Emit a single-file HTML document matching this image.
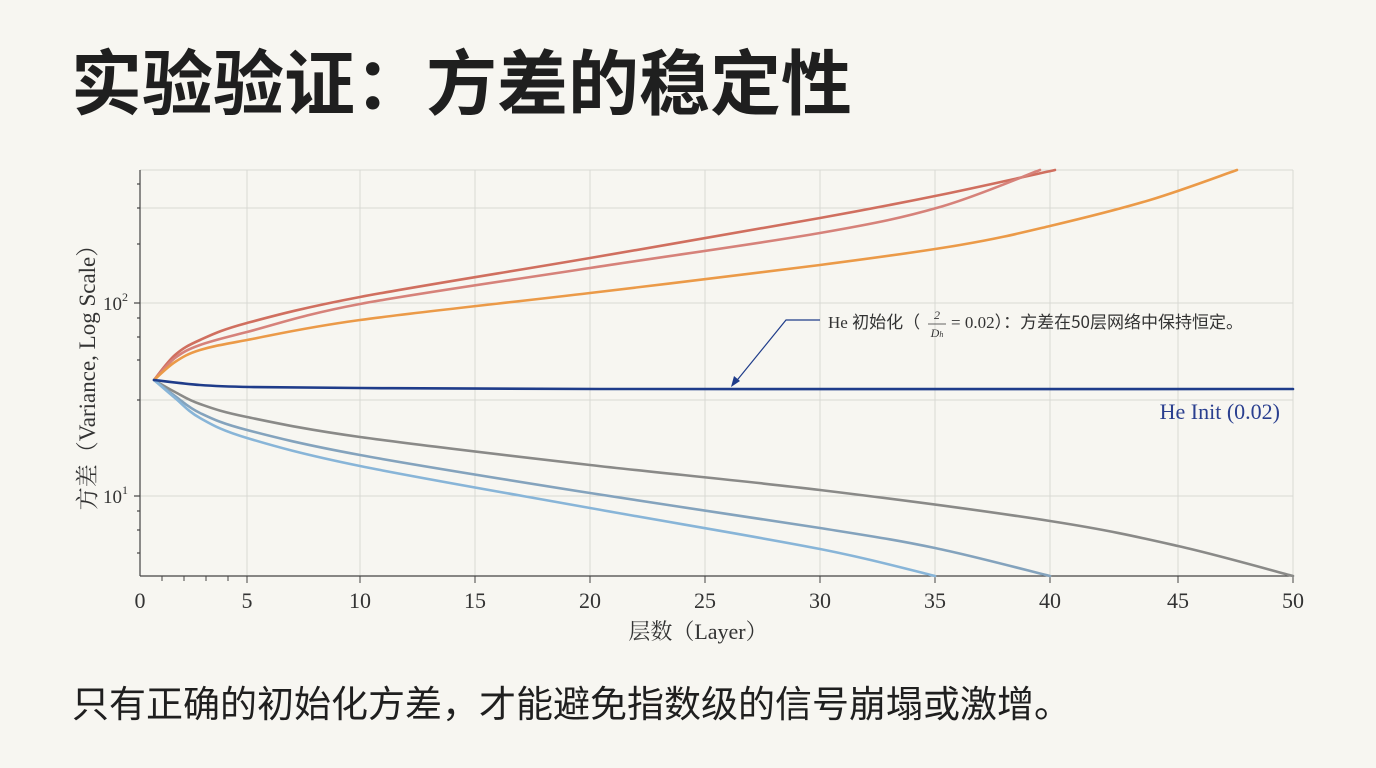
<!DOCTYPE html>
<html><head><meta charset="utf-8"><style>
html,body{margin:0;padding:0;background:#f7f6f1;}
body{width:1376px;height:768px;position:relative;overflow:hidden;}
.t{position:absolute;left:71px;top:50px;line-height:1;font-family:"Liberation Sans","Noto Sans CJK SC",sans-serif;font-weight:bold;font-size:71px;color:#1f1f1f;}
.b{position:absolute;left:72px;top:686px;line-height:1;font-family:"Liberation Sans","Noto Sans CJK SC",sans-serif;font-size:37px;color:#1f1f1f;}
</style></head><body>
<div class="t">实验验证：方差的稳定性</div>
<svg width="1376" height="768" style="position:absolute;left:0;top:0" font-family="Liberation Serif, Noto Serif CJK SC, serif">
<g stroke="#d9d9d4" stroke-width="1">
<line x1="247" y1="170" x2="247" y2="576"/><line x1="360" y1="170" x2="360" y2="576"/><line x1="475" y1="170" x2="475" y2="576"/>
<line x1="590" y1="170" x2="590" y2="576"/><line x1="705" y1="170" x2="705" y2="576"/><line x1="820" y1="170" x2="820" y2="576"/>
<line x1="935" y1="170" x2="935" y2="576"/><line x1="1050" y1="170" x2="1050" y2="576"/><line x1="1178" y1="170" x2="1178" y2="576"/>
<line x1="1293" y1="170" x2="1293" y2="576"/>
<line x1="140" y1="170" x2="1293" y2="170"/><line x1="140" y1="208" x2="1293" y2="208"/><line x1="140" y1="303" x2="1293" y2="303"/>
<line x1="140" y1="400" x2="1293" y2="400"/><line x1="140" y1="496" x2="1293" y2="496"/>
</g>
<g stroke="#444" stroke-width="1.2">
<line x1="140" y1="170" x2="140" y2="576"/><line x1="140" y1="576" x2="1293" y2="576"/>
<line x1="134" y1="303" x2="140" y2="303"/><line x1="134" y1="496" x2="140" y2="496"/>
<line x1="137" y1="184" x2="140" y2="184"/><line x1="137" y1="208" x2="140" y2="208"/><line x1="137" y1="244" x2="140" y2="244"/>
<line x1="137" y1="318" x2="140" y2="318"/><line x1="137" y1="337" x2="140" y2="337"/><line x1="137" y1="360" x2="140" y2="360"/><line x1="137" y1="400" x2="140" y2="400"/>
<line x1="137" y1="511" x2="140" y2="511"/><line x1="137" y1="530" x2="140" y2="530"/><line x1="137" y1="553" x2="140" y2="553"/>
</g>
<g stroke="#444" stroke-width="1">
<line x1="162" y1="576" x2="162" y2="581"/><line x1="184" y1="576" x2="184" y2="581"/><line x1="206" y1="576" x2="206" y2="581"/><line x1="228" y1="576" x2="228" y2="581"/>
<line x1="247" y1="576" x2="247" y2="583"/><line x1="360" y1="576" x2="360" y2="583"/><line x1="475" y1="576" x2="475" y2="583"/><line x1="590" y1="576" x2="590" y2="583"/><line x1="705" y1="576" x2="705" y2="583"/><line x1="820" y1="576" x2="820" y2="583"/><line x1="935" y1="576" x2="935" y2="583"/><line x1="1050" y1="576" x2="1050" y2="583"/><line x1="1178" y1="576" x2="1178" y2="583"/><line x1="1293" y1="576" x2="1293" y2="583"/>
</g>
<g fill="#333" font-size="22" text-anchor="middle">
<text x="140" y="608">0</text><text x="247" y="608">5</text><text x="360" y="608">10</text><text x="475" y="608">15</text><text x="590" y="608">20</text><text x="705" y="608">25</text><text x="820" y="608">30</text><text x="935" y="608">35</text><text x="1050" y="608">40</text><text x="1178" y="608">45</text><text x="1293" y="608">50</text>
</g>
<g fill="#333" font-size="19" text-anchor="end">
<text x="128" y="310">10<tspan font-size="12" dy="-9">2</tspan></text>
<text x="128" y="503">10<tspan font-size="12" dy="-9">1</tspan></text>
</g>
<text x="698" y="639" font-size="22" fill="#333" text-anchor="middle">层数（Layer）</text>
<text transform="translate(95,372) rotate(-90)" font-size="23" fill="#333" text-anchor="middle">方差（Variance, Log Scale）</text>
<g id="curves" fill="none" stroke-width="2.6" stroke-linejoin="round" stroke-linecap="round"></g>
<polyline fill="none" stroke="#1f3c8a" stroke-width="1.2" points="820,320 786,320 734,384"/>
<polygon fill="#1f3c8a" points="731,387 734,376 740,381"/>
<text x="828" y="328" font-size="17" fill="#333">He <tspan font-family="Noto Sans CJK SC, sans-serif">初始化（</tspan></text>
<text x="937" y="319" font-size="12" fill="#333" font-style="italic" text-anchor="middle">2</text>
<line x1="928" y1="324" x2="946" y2="324" stroke="#333" stroke-width="0.8"/>
<text x="937" y="337" font-size="12" fill="#333" font-style="italic" text-anchor="middle">D<tspan font-size="8">h</tspan></text>
<text x="951" y="328" font-size="17" fill="#333">= 0.02<tspan font-family="Noto Sans CJK SC, sans-serif">）：方差在50层网络中保持恒定。</tspan></text>
<text x="1280" y="419" font-size="22" fill="#2a3f8f" text-anchor="end">He Init (0.02)</text>
</svg>
<div class="b">只有正确的初始化方差，才能避免指数级的信号崩塌或激增。</div>
<script>
var S=[
["#d06f5f",[[154,380],[175,355],[200,340],[247,323],[360,297],[590,258],[820,218],[940,195],[1055,170]]],
["#d6827a",[[154,380],[175,358],[200,345],[247,332],[360,304],[590,268],[820,233],[940,207],[1040,170]]],
["#eb9a48",[[154,380],[175,362],[200,350],[247,340],[360,320],[590,293],[820,265],[960,245],[1050,226],[1150,200],[1237,170]]],
["#8a8a88",[[154,380],[175,392],[200,404],[247,417],[360,437],[590,465],[820,490],[1050,521],[1178,546],[1293,576]]],
["#84a3bd",[[154,380],[175,396],[200,413],[247,430],[360,455],[590,493],[820,528],[935,548],[1050,576]]],
["#88b5d8",[[154,380],[175,398],[200,418],[247,438],[360,466],[590,508],[820,549],[935,576]]],
["#1f3c8a",[[154,380],[200,385],[250,387],[360,388],[600,389],[1293,389]]]];
var g=document.getElementById("curves");
S.forEach(function(s){var p=s[1],d="M"+p[0][0]+","+p[0][1];
for(var i=0;i<p.length-1;i++){var p0=p[i-1]||p[i],p1=p[i],p2=p[i+1],p3=p[i+2]||p2;
d+=" C"+(p1[0]+(p2[0]-p0[0])/6)+","+(p1[1]+(p2[1]-p0[1])/6)+" "+(p2[0]-(p3[0]-p1[0])/6)+","+(p2[1]-(p3[1]-p1[1])/6)+" "+p2[0]+","+p2[1];}
var e=document.createElementNS("http://www.w3.org/2000/svg","path");e.setAttribute("d",d);e.setAttribute("stroke",s[0]);g.appendChild(e);});
</script>
</body></html>
